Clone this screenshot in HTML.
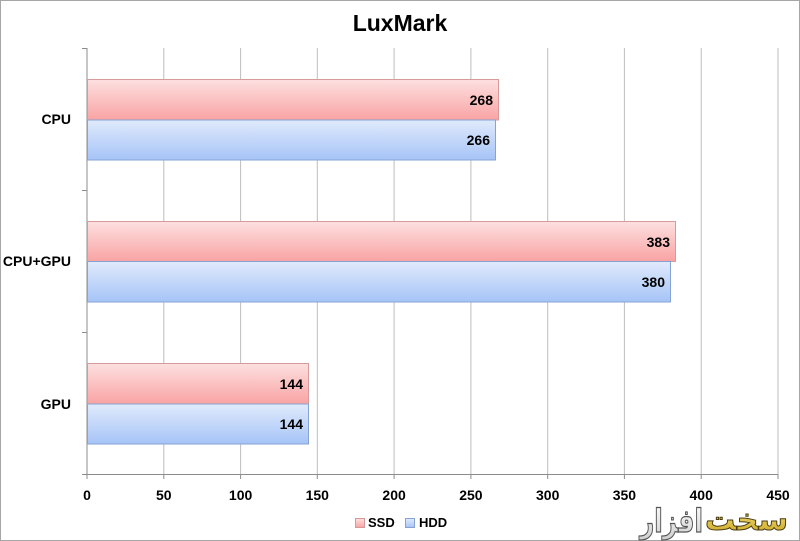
<!DOCTYPE html>
<html><head><meta charset="utf-8"><style>
html,body{margin:0;padding:0;background:#fff;}
svg{display:block;}
text{font-family:"Liberation Sans","DejaVu Sans",sans-serif;font-weight:bold;}
</style></head><body>
<svg width="800" height="541" viewBox="0 0 800 541" xmlns="http://www.w3.org/2000/svg">
<defs>
<linearGradient id="r" x1="0" y1="0" x2="0" y2="1">
<stop offset="0" stop-color="#fde0e0"/><stop offset="1" stop-color="#f9a3a3"/></linearGradient>
<linearGradient id="b" x1="0" y1="0" x2="0" y2="1">
<stop offset="0" stop-color="#e0eafc"/><stop offset="1" stop-color="#a6c4f7"/></linearGradient>
<linearGradient id="g" x1="0" y1="0" x2="0" y2="1">
<stop offset="0" stop-color="#f8e88a"/><stop offset="1" stop-color="#c9a21c"/></linearGradient>
<linearGradient id="w" x1="0" y1="0" x2="0" y2="1">
<stop offset="0" stop-color="#ffffff"/><stop offset="1" stop-color="#cfcfcf"/></linearGradient>
</defs>
<rect x="0.5" y="0.5" width="799" height="540" fill="#fff" stroke="#a6a6a6"/>
<text x="400" y="31" font-size="23" text-anchor="middle" fill="#000">LuxMark</text>
<g stroke="#bdbdbd" stroke-width="1">
<line x1="163.8" y1="48" x2="163.8" y2="474"/>
<line x1="240.6" y1="48" x2="240.6" y2="474"/>
<line x1="317.3" y1="48" x2="317.3" y2="474"/>
<line x1="394.1" y1="48" x2="394.1" y2="474"/>
<line x1="470.9" y1="48" x2="470.9" y2="474"/>
<line x1="547.7" y1="48" x2="547.7" y2="474"/>
<line x1="624.4" y1="48" x2="624.4" y2="474"/>
<line x1="701.2" y1="48" x2="701.2" y2="474"/>
<line x1="778" y1="48" x2="778" y2="474"/>
</g>
<g stroke="#8c8c8c" stroke-width="1">
<line x1="87" y1="48" x2="87" y2="474"/>
<line x1="87" y1="474.5" x2="778" y2="474.5"/>
<line x1="82" y1="48.5" x2="87" y2="48.5"/>
<line x1="82" y1="190.5" x2="87" y2="190.5"/>
<line x1="82" y1="332.5" x2="87" y2="332.5"/>
<line x1="82" y1="474.5" x2="87" y2="474.5"/>
<line x1="87" y1="474" x2="87" y2="479"/>
<line x1="163.8" y1="474" x2="163.8" y2="479"/>
<line x1="240.6" y1="474" x2="240.6" y2="479"/>
<line x1="317.3" y1="474" x2="317.3" y2="479"/>
<line x1="394.1" y1="474" x2="394.1" y2="479"/>
<line x1="470.9" y1="474" x2="470.9" y2="479"/>
<line x1="547.7" y1="474" x2="547.7" y2="479"/>
<line x1="624.4" y1="474" x2="624.4" y2="479"/>
<line x1="701.2" y1="474" x2="701.2" y2="479"/>
<line x1="778" y1="474" x2="778" y2="479"/>
</g>
<g stroke-width="1">
<rect x="87.5" y="79.5" width="411" height="40.5" fill="url(#r)" stroke="#d69a9a"/>
<rect x="87.5" y="120" width="408" height="40" fill="url(#b)" stroke="#86a3d3"/>
<rect x="87.5" y="221.5" width="588" height="40" fill="url(#r)" stroke="#d69a9a"/>
<rect x="87.5" y="261.5" width="583" height="40.5" fill="url(#b)" stroke="#86a3d3"/>
<rect x="87.5" y="363.5" width="221" height="40.5" fill="url(#r)" stroke="#d69a9a"/>
<rect x="87.5" y="404" width="221" height="40" fill="url(#b)" stroke="#86a3d3"/>
</g>
<g font-size="14" fill="#000" text-anchor="end">
<text x="493" y="105">268</text>
<text x="490" y="145">266</text>
<text x="670" y="247">383</text>
<text x="665" y="287">380</text>
<text x="303" y="389">144</text>
<text x="303" y="429">144</text>
</g>
<g font-size="14" fill="#000" text-anchor="end">
<text x="71" y="124">CPU</text>
<text x="71" y="266">CPU+GPU</text>
<text x="71" y="409">GPU</text>
</g>
<g font-size="14" fill="#000" text-anchor="middle">
<text x="87" y="500">0</text>
<text x="163.8" y="500">50</text>
<text x="240.6" y="500">100</text>
<text x="317.3" y="500">150</text>
<text x="394.1" y="500">200</text>
<text x="470.9" y="500">250</text>
<text x="547.7" y="500">300</text>
<text x="624.4" y="500">350</text>
<text x="701.2" y="500">400</text>
<text x="778" y="500">450</text>
</g>
<rect x="355.5" y="518.5" width="9" height="9" fill="url(#r)" stroke="#d69a9a"/>
<text x="368" y="527" font-size="13" fill="#000">SSD</text>
<rect x="405.5" y="518.5" width="9" height="9" fill="url(#b)" stroke="#86a3d3"/>
<text x="419" y="527" font-size="13" fill="#000">HDD</text>
<text x="705" y="530" font-size="30" textLength="83" lengthAdjust="spacingAndGlyphs" fill="url(#g)" stroke="#4a3d10" stroke-width="1" style="font-family:'DejaVu Sans',sans-serif;font-weight:bold">سخت</text>
<text x="640" y="532" font-size="32" textLength="63" lengthAdjust="spacingAndGlyphs" fill="url(#w)" stroke="#555" stroke-width="1.2" style="font-family:'DejaVu Sans',sans-serif;font-weight:bold">افزار</text>
</svg>
</body></html>
